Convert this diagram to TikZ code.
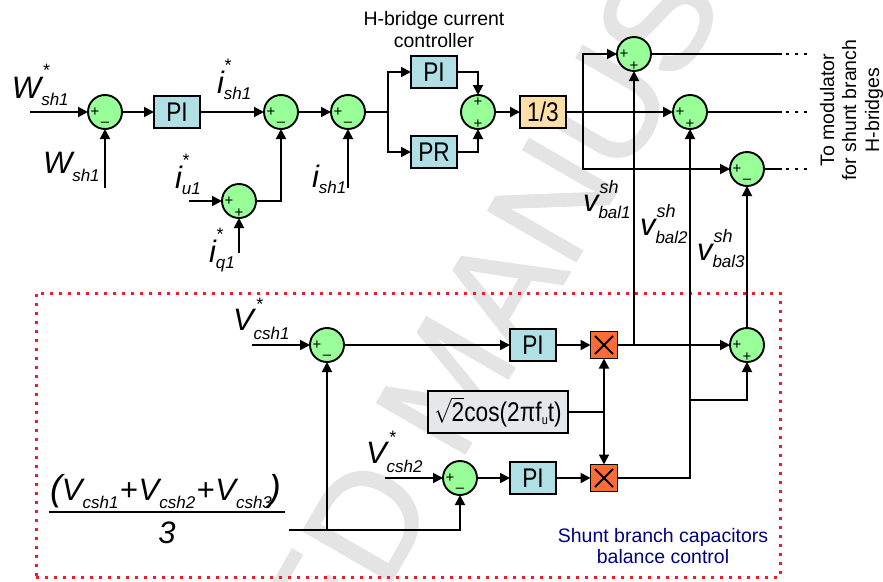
\documentclass[tikz,border=0pt]{standalone}
\usepackage{graphicx}
\usepackage{fontspec}
\setmainfont{Liberation Sans}
\newfontfamily\wmfont[FakeBold=1.2]{Liberation Sans}
\usetikzlibrary{arrows.meta}
\definecolor{sumgreen}{HTML}{99FF99}
\definecolor{piblue}{HTML}{B0E0E6}
\definecolor{tanfill}{HTML}{FFDFA8}
\definecolor{mulor}{HTML}{FF6B35}
\definecolor{cosgray}{HTML}{E6E7E9}
\definecolor{wm}{HTML}{E4E4E4}
\definecolor{dotred}{HTML}{EE1C25}
\definecolor{navy}{HTML}{000080}
\newcommand{\fs}[1]{\fontsize{#1}{#1}\selectfont}
\newcommand{\nar}[1]{\scalebox{0.84}[1]{\fs{27}#1}}
% base, base-to-sup shift, raise sup, sup, drop sub, sub
\newcommand{\siglab}[6]{{\fs{31}\itshape #1}\rlap{\hspace{#2}\raisebox{#3}{\fs{18}\itshape #4}}\raisebox{-#5}{\fs{17}\itshape #6}}
\tikzset{
  every node/.style={inner sep=0pt,outer sep=0pt},
  wire/.style={line width=1.9pt,draw=black},
  sig/.style={wire,-{Triangle[length=10pt,width=10pt]}},
  sumnode/.style={circle,draw=black,line width=1.9pt,fill=sumgreen,minimum size=34pt},
  box/.style={draw=black,line width=1.9pt,minimum height=32pt},
  pibox/.style={box,fill=piblue,minimum width=46pt},
  tanbox/.style={box,fill=tanfill,minimum width=46pt},
  mulbox/.style={draw=black,line width=1.9pt,fill=mulor,minimum size=27pt},
  cosbox/.style={box,fill=cosgray,minimum width=140pt,minimum height=42pt},
  lab/.style={anchor=base west},
  signtxt/.style={font=\fs{15}},
  dots/.style={wire,dash pattern=on 3pt off 6pt,line width=2.4pt},
}
\newcommand{\plusL}[1]{\node[signtxt] at ([xshift=-10pt]#1) {+};}
\newcommand{\plusB}[1]{\node[signtxt] at ([yshift=-12pt]#1) {+};}
\newcommand{\plusT}[1]{\node[signtxt] at ([yshift=10pt]#1) {+};}
\newcommand{\minusB}[1]{\node[signtxt] at ([yshift=-12pt]#1) {–};}
\begin{document}
\begin{tikzpicture}[x=1pt,y=-1pt]
\useasboundingbox (0,0) rectangle (883,581);
\begin{scope}
\clip (0,0) rectangle (883,581);
\node[text=wm,rotate=60,font=\fs{148}\wmfont] (wmk) at (487,314) {ED MANUS};
\end{scope}
\node[draw=dotred,line width=3pt,dash pattern=on 3pt off 6pt,minimum width=744pt,minimum height=284pt] (frame) at (408,435) {};
% sums
\node[sumnode] (s1) at (105,112) {};
\node[sumnode] (s2) at (281,112) {};
\node[sumnode] (s3) at (348,112) {};
\node[sumnode] (s4) at (239,201) {};
\node[sumnode] (s5) at (478,112) {};
\node[sumnode] (st) at (634,54) {};
\node[sumnode] (sm) at (690,112) {};
\node[sumnode] (sl) at (747,169) {};
\node[sumnode] (s6) at (327,345) {};
\node[sumnode] (s7) at (460,478) {};
\node[sumnode] (s8) at (747,345) {};
\plusL{s1}\minusB{s1}\plusL{s2}\minusB{s2}\plusL{s3}\minusB{s3}
\plusL{s4}\plusB{s4}\plusT{s5}\plusB{s5}
\plusL{st}\plusB{st}\plusL{sm}\plusB{sm}\plusL{sl}\minusB{sl}
\plusL{s6}\minusB{s6}\plusL{s7}\minusB{s7}\plusL{s8}\plusB{s8}
% boxes
\node[pibox] (pi1) at (177,112) {\nar{PI}};
\node[pibox] (hpi) at (434,72) {\nar{PI}};
\node[pibox] (hpr) at (434,152) {\nar{PR}};
\node[tanbox] (third) at (543,112) {\nar{1/3}};
\node[pibox] (pi2) at (533,345) {\nar{PI}};
\node[pibox] (pi3) at (533,478) {\nar{PI}};
\node[mulbox] (x1) at (604,345) {};
\node[mulbox] (x2) at (604,478) {};
\draw[wire] (x1.center)+(-9,-9) -- +(9,9) (x1.center)+(9,-9) -- +(-9,9);
\draw[wire] (x2.center)+(-9,-9) -- +(9,9) (x2.center)+(9,-9) -- +(-9,9);
\node[cosbox] (cos) at (498,412) {\nar{$\sqrt{\hbox{\fs{27}2}}$cos(2πf\raisebox{-3pt}{\fs{13}u}t)}};
% free ends and junctions
\coordinate (inw) at (30,112);
\coordinate (infb) at (105,188);
\coordinate (inu) at (189,201);
\coordinate (inq) at (239,253);
\coordinate (ini) at (348,188);
\coordinate (split) at (388,112);
\coordinate (jt) at (583,112);
\coordinate (ot) at (782,54);
\coordinate (om) at (782,112);
\coordinate (ol) at (782,169);
\coordinate (dt) at (807,54);
\coordinate (dm) at (807,112);
\coordinate (dl) at (807,169);
\coordinate (j1) at (634,345);
\coordinate (j2) at (690,400);
\coordinate (j2c) at (690,345);
\coordinate (jc) at (604,412);
\coordinate (avg) at (289,530);
\coordinate (javg) at (327,530);
\coordinate (inc1) at (252,345);
\coordinate (inc2) at (385,478);
% connectors
\draw[sig] (inw) -- (s1);
\draw[sig] (infb) -- (s1);
\draw[sig] (s1) -- (pi1);
\draw[sig] (pi1) -- (s2);
\draw[sig] (s2) -- (s3);
\draw[sig] (ini) -- (s3);
\draw[sig] (inu) -- (s4);
\draw[sig] (inq) -- (s4);
\draw[sig] (s4) -| (s2);
\draw[wire] (s3) -- (split);
\draw[sig] (split) |- (hpi);
\draw[sig] (split) |- (hpr);
\draw[sig] (hpi) -| (s5);
\draw[sig] (hpr) -| (s5);
\draw[sig] (s5) -- (third);
\draw[sig] (third) -- (sm);
\draw[sig] (jt) |- (st);
\draw[sig] (jt) |- (sl);
\draw[wire] (st) -- (ot);
\draw[wire] (sm) -- (om);
\draw[wire] (sl) -- (ol);
\draw[dots] (ot) ++(4,0) -- (dt);
\draw[dots] (om) ++(4,0) -- (dm);
\draw[dots] (ol) ++(4,0) -- (dl);
\draw[sig] (inc1) -- (s6);
\draw[sig] (inc2) -- (s7);
\draw[sig] (s6) -- (pi2);
\draw[sig] (s7) -- (pi3);
\draw[sig] (pi2) -- (x1);
\draw[sig] (pi3) -- (x2);
\draw[sig] (x1) -- (s8);
\draw[sig] (j1) -- (st);
\draw[wire] (cos) -- (jc);
\draw[sig] (jc) -- (x1);
\draw[sig] (jc) -- (x2);
\draw[wire] (x2) -| (j2c);
\draw[sig] (j2c) -- (sm);
\draw[sig] (j2) -| (s8);
\draw[sig] (s8) -- (sl);
\draw[wire] (avg) -- (javg);
\draw[sig] (javg) -| (s7);
\draw[sig] (javg) -- (s6);
% labels
\node[lab] (lw) at (12,98) {\siglab{W}{1pt}{22pt}{*}{7pt}{sh1}};
\node[lab] (lwf) at (43,173) {\siglab{W}{0pt}{0pt}{}{8pt}{sh1}};
\node[lab] (li) at (217,93) {\siglab{i}{0pt}{22pt}{*}{6pt}{sh1}};
\node[lab] (liu) at (175,188) {\siglab{i}{0pt}{22pt}{*}{6pt}{u1}};
\node[lab] (liq) at (209,262) {\siglab{i}{0pt}{22pt}{*}{6pt}{q1}};
\node[lab] (lif) at (312,187) {\siglab{i}{0pt}{0pt}{}{6pt}{sh1}};
\node[lab] (lv1) at (233,330) {\siglab{V}{2pt}{20pt}{*}{9pt}{csh1}};
\node[lab] (lv2) at (366,463) {\siglab{V}{2pt}{20pt}{*}{9pt}{csh2}};
\node[lab] (lb1) at (583,211) {\siglab{v}{1pt}{18pt}{sh}{7pt}{bal1}};
\node[lab] (lb2) at (640,235) {\siglab{v}{1pt}{18pt}{sh}{8pt}{bal2}};
\node[lab] (lb3) at (697,260) {\siglab{v}{1pt}{18pt}{sh}{7pt}{bal3}};
\node[lab] (num) at (50,500) {\fs{31}\itshape {\fs{36}(}V\raisebox{-8pt}{\fs{17}csh1}\kern1pt+\kern1pt V\raisebox{-8pt}{\fs{17}csh2}\kern1pt+\kern1pt V\raisebox{-8pt}{\fs{17}csh3}\kern-3pt{\fs{36})}};
\coordinate (fl) at (49,512);
\coordinate (fr) at (285,512);
\draw[line width=1.9pt] (fl) -- (fr);
\node[anchor=base,font=\fs{31}\itshape] (den) at (167,543) {3};
\node[anchor=base,font=\fs{19.5}] (hbt) at (434,25) {H-bridge current};
\node[anchor=base,font=\fs{19.5}] (hbb) at (434,47) {controller};
\node[anchor=base,rotate=90,font=\fs{19.5}] (m1) at (834,110) {To modulator};
\node[anchor=base,rotate=90,font=\fs{19.5}] (m2) at (856,110) {for shunt branch};
\node[anchor=base,rotate=90,font=\fs{19.5}] (m3) at (879,110) {H-bridges};
\node[anchor=base,text=navy,font=\fs{19.5}] (sb1) at (663,542) {Shunt branch capacitors};
\node[anchor=base,text=navy,font=\fs{19.5}] (sb2) at (663,563) {balance control};
\end{tikzpicture}
\end{document}
